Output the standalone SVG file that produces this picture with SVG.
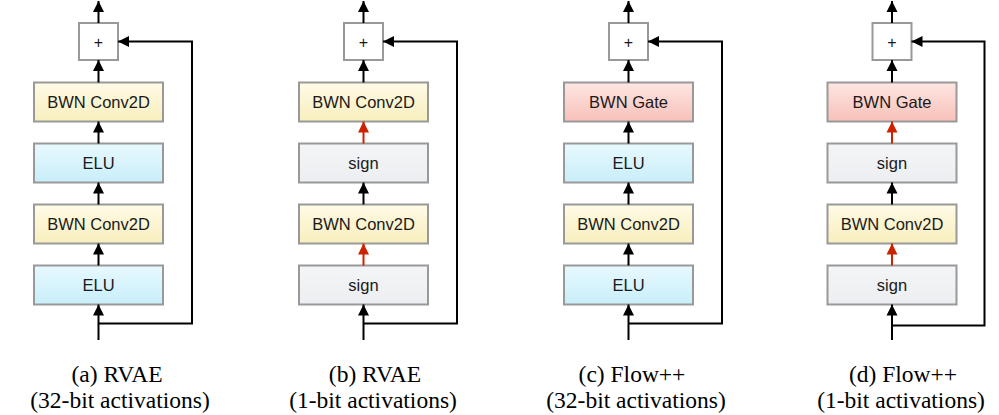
<svg xmlns="http://www.w3.org/2000/svg" width="999" height="415" viewBox="0 0 999 415">
<defs>
<linearGradient id="gY" x1="0" y1="0" x2="0" y2="1"><stop offset="0" stop-color="#fffbe6"/><stop offset="1" stop-color="#f8eebd"/></linearGradient>
<linearGradient id="gB" x1="0" y1="0" x2="0" y2="1"><stop offset="0" stop-color="#e8f9fe"/><stop offset="1" stop-color="#c8eef9"/></linearGradient>
<linearGradient id="gP" x1="0" y1="0" x2="0" y2="1"><stop offset="0" stop-color="#fee6e2"/><stop offset="1" stop-color="#f8c0b9"/></linearGradient>
<linearGradient id="gG" x1="0" y1="0" x2="0" y2="1"><stop offset="0" stop-color="#f4f5f7"/><stop offset="1" stop-color="#eceef1"/></linearGradient>
<marker id="ah" markerUnits="userSpaceOnUse" markerWidth="12" markerHeight="12" refX="11" refY="6" orient="auto"><path d="M0,0.5 L11,6 L0,11.5 z" fill="#000"/></marker>
<marker id="ahr" markerUnits="userSpaceOnUse" markerWidth="12" markerHeight="12" refX="11" refY="6" orient="auto"><path d="M0,0.5 L11,6 L0,11.5 z" fill="#cc2200"/></marker>
</defs>
<style>
.box{stroke:#999;stroke-width:2}
.y{fill:url(#gY)}.b{fill:url(#gB)}.p{fill:url(#gP)}.g{fill:url(#gG)}.w{fill:#fff}
.t{font-family:"Liberation Sans",Arial,sans-serif;font-size:16.5px;fill:#1a1a1a;text-anchor:middle}
.pl{font-family:"Liberation Sans",Arial,sans-serif;font-size:16px;fill:#1a1a1a;text-anchor:middle}
.c{fill:none;stroke:#000;stroke-width:2;marker-end:url(#ah)}
.r{fill:none;stroke:#cc2200;stroke-width:2;marker-end:url(#ahr)}
.cap{font-family:"Liberation Serif","Times New Roman",serif;font-size:23.5px;fill:#000;text-anchor:middle}
</style>
<rect width="999" height="415" fill="#fff"/>

<!-- Panel a -->
<g id="a_plus" transform="translate(98.5,0)"><rect class="box w" x="-19.5" y="23" width="39" height="37"/><text class="pl" x="0" y="47.5">+</text></g>
<g id="a_conv1" transform="translate(98.5,0)"><rect class="box y" x="-64.5" y="82.5" width="129" height="39"/><text class="t" x="0" y="108">BWN Conv2D</text></g>
<g id="a_elu1" transform="translate(98.5,0)"><rect class="box b" x="-64.5" y="143.5" width="129" height="39"/><text class="t" x="0" y="169">ELU</text></g>
<g id="a_conv2" transform="translate(98.5,0)"><rect class="box y" x="-64.5" y="204.5" width="129" height="39"/><text class="t" x="0" y="230">BWN Conv2D</text></g>
<g id="a_elu2" transform="translate(98.5,0)"><rect class="box b" x="-64.5" y="265.5" width="129" height="39"/><text class="t" x="0" y="291">ELU</text></g>

<!-- Panel b -->
<g id="b_plus" transform="translate(363.5,0)"><rect class="box w" x="-19.5" y="23" width="39" height="37"/><text class="pl" x="0" y="47.5">+</text></g>
<g id="b_conv1" transform="translate(363.5,0)"><rect class="box y" x="-64.5" y="82.5" width="129" height="39"/><text class="t" x="0" y="108">BWN Conv2D</text></g>
<g id="b_sign1" transform="translate(363.5,0)"><rect class="box g" x="-64.5" y="143.5" width="129" height="39"/><text class="t" x="0" y="169">sign</text></g>
<g id="b_conv2" transform="translate(363.5,0)"><rect class="box y" x="-64.5" y="204.5" width="129" height="39"/><text class="t" x="0" y="230">BWN Conv2D</text></g>
<g id="b_sign2" transform="translate(363.5,0)"><rect class="box g" x="-64.5" y="265.5" width="129" height="39"/><text class="t" x="0" y="291">sign</text></g>

<!-- Panel c -->
<g id="c_plus" transform="translate(628.5,0)"><rect class="box w" x="-19.5" y="23" width="39" height="37"/><text class="pl" x="0" y="47.5">+</text></g>
<g id="c_gate" transform="translate(628.5,0)"><rect class="box p" x="-64.5" y="82.5" width="129" height="39"/><text class="t" x="0" y="108">BWN Gate</text></g>
<g id="c_elu1" transform="translate(628.5,0)"><rect class="box b" x="-64.5" y="143.5" width="129" height="39"/><text class="t" x="0" y="169">ELU</text></g>
<g id="c_conv" transform="translate(628.5,0)"><rect class="box y" x="-64.5" y="204.5" width="129" height="39"/><text class="t" x="0" y="230">BWN Conv2D</text></g>
<g id="c_elu2" transform="translate(628.5,0)"><rect class="box b" x="-64.5" y="265.5" width="129" height="39"/><text class="t" x="0" y="291">ELU</text></g>

<!-- Panel d -->
<g id="d_plus" transform="translate(892,0)"><rect class="box w" x="-19.5" y="23" width="39" height="37"/><text class="pl" x="0" y="47.5">+</text></g>
<g id="d_gate" transform="translate(892,0)"><rect class="box p" x="-64.5" y="82.5" width="129" height="39"/><text class="t" x="0" y="108">BWN Gate</text></g>
<g id="d_sign1" transform="translate(892,0)"><rect class="box g" x="-64.5" y="143.5" width="129" height="39"/><text class="t" x="0" y="169">sign</text></g>
<g id="d_conv" transform="translate(892,0)"><rect class="box y" x="-64.5" y="204.5" width="129" height="39"/><text class="t" x="0" y="230">BWN Conv2D</text></g>
<g id="d_sign2" transform="translate(892,0)"><rect class="box g" x="-64.5" y="265.5" width="129" height="39"/><text class="t" x="0" y="291">sign</text></g>

<g id="connectors">
<g transform="translate(98.5,0)">
<path class="c" d="M0,23 V1"/>
<path class="c" d="M0,82.5 V60"/>
<path class="c" d="M0,143.5 V121.5"/>
<path class="c" d="M0,204.5 V182.5"/>
<path class="c" d="M0,265.5 V243.5"/>
<path class="c" d="M0,340 V304.5"/>
<path class="c" d="M0,323.5 H93.5 V41.5 H19.5"/>
</g>
<g transform="translate(363.5,0)">
<path class="c" d="M0,23 V1"/>
<path class="c" d="M0,82.5 V60"/>
<path class="r" d="M0,143.5 V121.5"/>
<path class="c" d="M0,204.5 V182.5"/>
<path class="r" d="M0,265.5 V243.5"/>
<path class="c" d="M0,340 V304.5"/>
<path class="c" d="M0,323.5 H93.5 V41.5 H19.5"/>
</g>
<g transform="translate(628.5,0)">
<path class="c" d="M0,23 V1"/>
<path class="c" d="M0,82.5 V60"/>
<path class="c" d="M0,143.5 V121.5"/>
<path class="c" d="M0,204.5 V182.5"/>
<path class="c" d="M0,265.5 V243.5"/>
<path class="c" d="M0,340 V304.5"/>
<path class="c" d="M0,323.5 H93.5 V41.5 H19.5"/>
</g>
<g transform="translate(892,0)">
<path class="c" d="M0,23 V1"/>
<path class="c" d="M0,82.5 V60"/>
<path class="r" d="M0,143.5 V121.5"/>
<path class="c" d="M0,204.5 V182.5"/>
<path class="r" d="M0,265.5 V243.5"/>
<path class="c" d="M0,340 V304.5"/>
<path class="c" d="M0,325.5 H92.5 V41.5 H19.5"/>
</g>
</g>

<g id="captions">
<text class="cap" x="117" y="382">(a) RVAE</text>
<text class="cap" x="120" y="408">(32-bit activations)</text>
<text class="cap" x="375" y="382">(b) RVAE</text>
<text class="cap" x="373" y="408">(1-bit activations)</text>
<text class="cap" x="632" y="382">(c) Flow++</text>
<text class="cap" x="636" y="408">(32-bit activations)</text>
<text class="cap" x="903" y="382">(d) Flow++</text>
<text class="cap" x="901" y="408">(1-bit activations)</text>
</g>
</svg>
